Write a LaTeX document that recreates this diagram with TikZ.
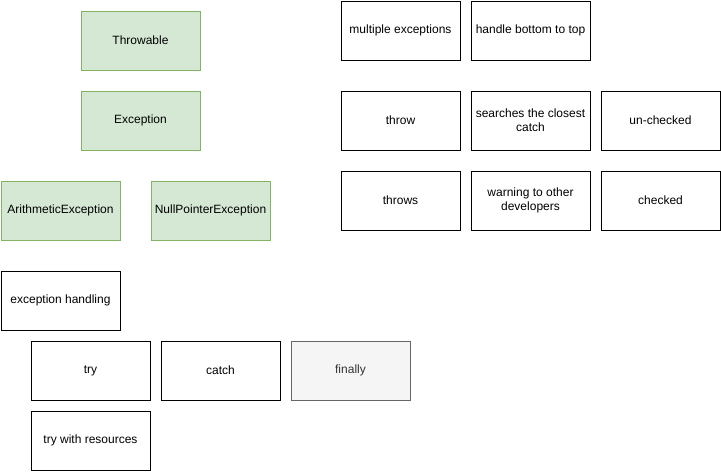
\documentclass[tikz,border=0pt]{standalone}
\usepackage{fontspec}
\setmainfont{Liberation Sans}
\definecolor{gfill}{HTML}{D5E8D4}
\definecolor{gdraw}{HTML}{82B366}
\definecolor{ffill}{HTML}{F5F5F5}
\definecolor{fdraw}{HTML}{666666}
\definecolor{ftext}{HTML}{333333}
\begin{document}
\begin{tikzpicture}[x=1pt,y=-1pt,
  box/.style={draw=black,fill=white,line width=1pt,minimum width=119pt,minimum height=59pt,inner sep=0pt,align=center,font=\fontsize{12}{14}\selectfont,anchor=north west},
  gbox/.style={box,draw=gdraw,fill=gfill},
  fbox/.style={box,draw=fdraw,fill=ffill,text=ftext}]
\useasboundingbox (0,0) rectangle (721,472);
\node[gbox] (throwable) at (80.5,10.5) {Throwable};
\node[gbox] (exception) at (80.5,90.5) {Exception};
\node[gbox] (arith) at (0.5,180.5) {ArithmeticException};
\node[gbox] (nullp) at (150.5,180.5) {NullPointerException};
\node[box] (handling) at (0.5,270.5) {exception handling};
\node[box] (try) at (30.5,340.5) {try};
\node[box] (catch) at (160.5,340.5) {catch};
\node[fbox] (finally) at (290.5,340.5) {finally};
\node[box] (trywr) at (30.5,410.5) {try with resources};
\node[box] (multi) at (340.5,0.5) {multiple exceptions};
\node[box] (handle) at (470.5,0.5) {handle bottom to top};
\node[box] (throw) at (340.5,90.5) {throw};
\node[box] (search) at (470.5,90.5) {searches the closest\\catch};
\node[box] (unchecked) at (600.5,90.5) {un-checked};
\node[box] (throws) at (340.5,170.5) {throws};
\node[box] (warning) at (470.5,170.5) {warning to other\\developers};
\node[box] (checked) at (600.5,170.5) {checked};
\end{tikzpicture}
\end{document}
